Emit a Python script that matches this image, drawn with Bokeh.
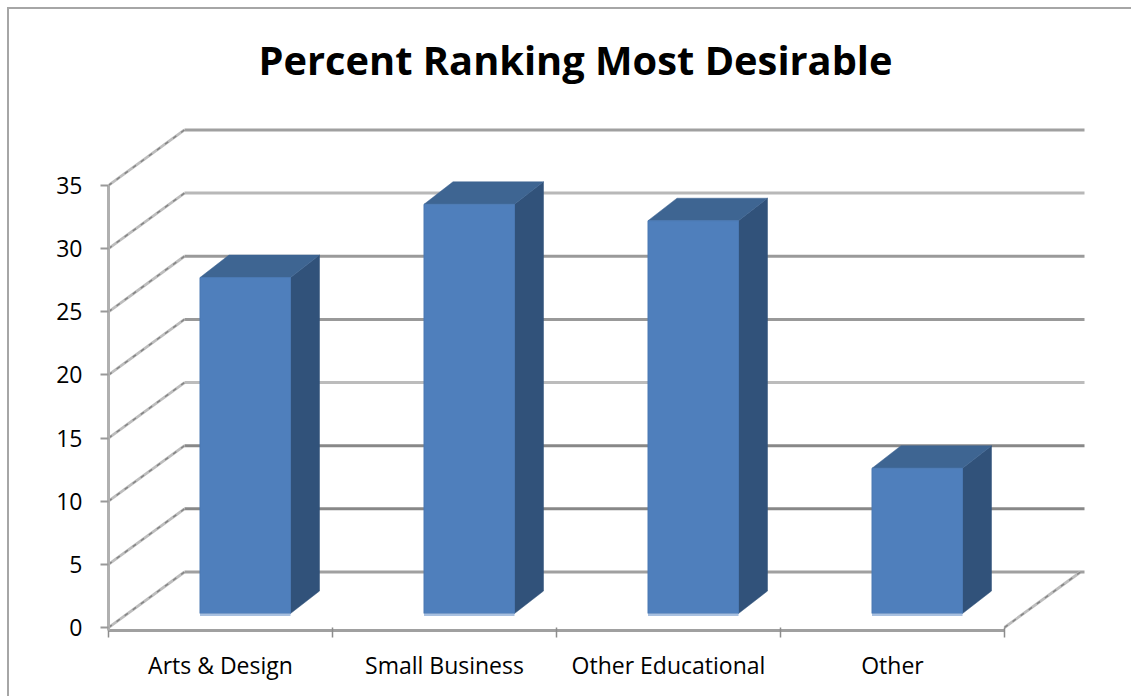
from bokeh.plotting import figure
from bokeh.models import Range1d, FixedTicker, LinearAxis, ColumnDataSource
from bokeh.models import Title
from bokeh.embed import file_html
from bokeh.resources import INLINE

# --- data ---
categories = ["Arts & Design", "Small Business", "Other Educational", "Other"]
values = [26.6, 32.4, 31.1, 11.5]
y_ticks = [0, 5, 10, 15, 20, 25, 30, 35]
chart_title = "Percent Ranking Most Desirable"

# --- styling of the walls ---
grid_colors = ["#a0a0a0", "#888888", "#888888", "#bcbcbc", "#999999", "#9a9a9a", "#b8b8b8", "#a0a0a0"]

# --- 3D projection, in axis units ---
PX_PER_CAT = 224.0
PX_PER_UNIT = 12.63
DEPTH_X = 76 / PX_PER_CAT
DEPTH_Y = 55.5 / PX_PER_UNIT
WALL_END = 976 / PX_PER_CAT
BAR_LEFT = 91.5 / PX_PER_CAT
BAR_W = 90.5 / PX_PER_CAT
BAR_BASE = 14 / PX_PER_UNIT
BAR_DX = 29 / PX_PER_CAT
BAR_DY = 22.5 / PX_PER_UNIT
STRIP = 2.5 / PX_PER_UNIT

FRAME_W = 978
FRAME_H = 529
Y_START = -3 / PX_PER_UNIT
Y_END = Y_START + FRAME_H / PX_PER_UNIT

# the chart-area border sits on the figure's own left and top edge
border = "2px solid #a6a6a6"
p = figure(width=1124, height=689, output_backend="svg", toolbar_location=None,
           x_range=Range1d(0, FRAME_W / PX_PER_CAT), y_range=Range1d(Y_START, Y_END),
           min_border_left=99, min_border_right=47, min_border_top=92, min_border_bottom=68,
           x_axis_type=None, y_axis_type=None, background_fill_color="white",
           border_fill_color="white", margin=(7, 0, 0, 7),
           styles={"border-left": border, "border-top": border})
p.outline_line_color = None
p.grid.visible = False

# title
t = Title(text=chart_title, align="left", offset=150, standoff=29,
          text_font="Open Sans", text_font_size="39.8px", text_font_style="bold", text_color="black")
p.title = t

# axes
yax = LinearAxis(ticker=FixedTicker(ticks=y_ticks), bounds=(Y_START, 35))
yax.axis_line_color = "#b0b0b0"
yax.axis_line_width = 3
yax.major_tick_line_color = "#999999"
yax.major_tick_line_width = 2
yax.major_tick_out = 8
yax.major_tick_in = 0
yax.minor_tick_line_color = None
yax.major_label_text_font = "Open Sans"
yax.major_label_text_font_size = "23px"
yax.major_label_text_color = "black"
yax.major_label_standoff = 18
p.add_layout(yax, "left")

centers = [i + 0.5 for i in range(len(categories))]
xax = LinearAxis(ticker=FixedTicker(ticks=centers, minor_ticks=list(range(len(categories) + 1))),
                 bounds=(0, len(categories)))
xax.major_label_overrides = {c: n for c, n in zip(centers, categories)}
xax.axis_line_color = "#a0a0a0"
xax.axis_line_width = 3
xax.major_tick_line_color = None
xax.minor_tick_line_color = "#8c8c8c"
xax.minor_tick_line_width = 1.5
xax.minor_tick_out = 7
xax.minor_tick_in = 3
xax.major_label_text_font = "Open Sans"
xax.major_label_text_font_size = "23px"
xax.major_label_text_color = "black"
xax.major_label_standoff = 11
p.add_layout(xax, "below")

# back wall gridlines
for v, c in zip(y_ticks, grid_colors):
    p.line([DEPTH_X, WALL_END], [v + DEPTH_Y, v + DEPTH_Y], line_color=c, line_width=3)

# side wall lines (jagged two-tone look)
def wall_line(x0, v):
    xs, ys = [x0, x0 + DEPTH_X], [v, v + DEPTH_Y]
    p.line(xs, ys, line_color="#bdbdbd", line_width=2.8)
    p.line(xs, ys, line_color="#858585", line_width=1.5, line_dash="4 6")

for v in y_ticks:
    wall_line(0, v)
wall_line(len(categories), 0)

# bars
lefts = [i + BAR_LEFT for i in range(len(values))]
rights = [l + BAR_W for l in lefts]
tops = [BAR_BASE + v for v in values]
src = ColumnDataSource(dict(left=lefts, right=rights, top=tops, bottom=[BAR_BASE] * len(values)))

# side faces
side_x = [[r, r + BAR_DX, r + BAR_DX, r] for r in rights]
side_y = [[BAR_BASE, BAR_BASE + BAR_DY, t + BAR_DY, t] for t in tops]
p.patches(side_x, side_y, fill_color="#31527a", line_color="#31527a", line_width=0.5)
# top faces
top_x = [[l, l + BAR_DX, r + BAR_DX, r] for l, r in zip(lefts, rights)]
top_y = [[t, t + BAR_DY, t + BAR_DY, t] for t in tops]
p.patches(top_x, top_y, fill_color="#3e6592", line_color="#3e6592", line_width=0.5)
# front faces
p.quad(left="left", right="right", top="top", bottom="bottom", source=src,
       fill_color="#4f7fbc", line_color="#4a78b2", line_width=1)
# pale strip at the foot of each bar
p.quad(left=lefts, right=rights, top=[BAR_BASE] * len(values), bottom=[BAR_BASE - STRIP] * len(values),
       fill_color="#a8c0e0", line_color=None)

open("out.html", "w").write(file_html(p, INLINE))
